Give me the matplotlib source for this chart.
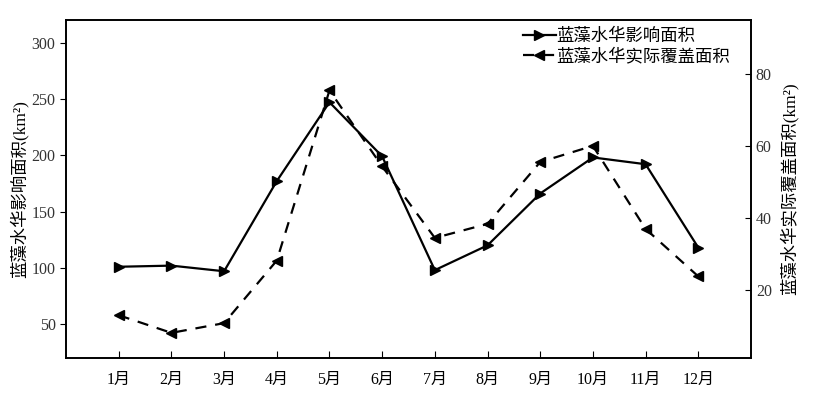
import numpy as np
from matplotlib import pyplot as plt

plt.rcParams['font.family'] = ['Liberation Serif', 'Noto Sans CJK SC', 'DejaVu Sans']

months = ['1月', '2月', '3月', '4月', '5月', '6月', '7月', '8月', '9月', '10月', '11月', '12月']
impactArea = [101, 102, 97, 177, 247, 199, 98, 120, 166, 198, 192, 118]
coverArea = [12.9, 8.0, 10.7, 28.1, 75.4, 54.3, 34.4, 38.3, 55.5, 60.0, 36.9, 23.7]

x = np.arange(1, len(months) + 1)

fig = plt.figure(figsize=(8.4, 4.12), dpi=100)
ax = fig.add_axes([0.0786, 0.131, 0.8154, 0.8205])
ax2 = ax.twinx()

line1, = ax.plot(x, impactArea, color='black', linewidth=1.6, marker='>', markersize=6.5,
                 label='蓝藻水华影响面积')
line2, = ax2.plot(x, coverArea, color='black', linewidth=1.6, linestyle=(0, (5, 4)), marker='<',
                  markersize=6.5, label='蓝藻水华实际覆盖面积')

ax.set_xlim(0, 13)
ax.set_ylim(20, 320)
ax2.set_ylim(1, 95)
ax.set_xticks(x)
ax.set_xticklabels(months, fontsize=11.5)
ax.set_yticks([50, 100, 150, 200, 250, 300])
ax2.set_yticks([20, 40, 60, 80])
ax.tick_params(axis='x', direction='in', length=5, pad=10)
ax.tick_params(axis='y', direction='out', length=4, labelsize=11.5, labelcolor='#333333')
ax2.tick_params(axis='y', direction='in', length=4, labelsize=11.5, labelcolor='#333333')
for a in (ax, ax2):
    for s in a.spines.values():
        s.set_linewidth(1.2)

ax.set_ylabel('蓝藻水华影响面积(km²)', fontsize=12.5, labelpad=2)
ax2.set_ylabel('蓝藻水华实际覆盖面积(km²)', fontsize=12.5, labelpad=6)

ax.legend(handles=[line1, line2], loc='upper right', bbox_to_anchor=(0.99, 1.015), frameon=False,
          fontsize=12.5, handlelength=1.9, handletextpad=0.05, labelspacing=0.2, borderpad=0.3)

fig.savefig('out.png', dpi=100)
